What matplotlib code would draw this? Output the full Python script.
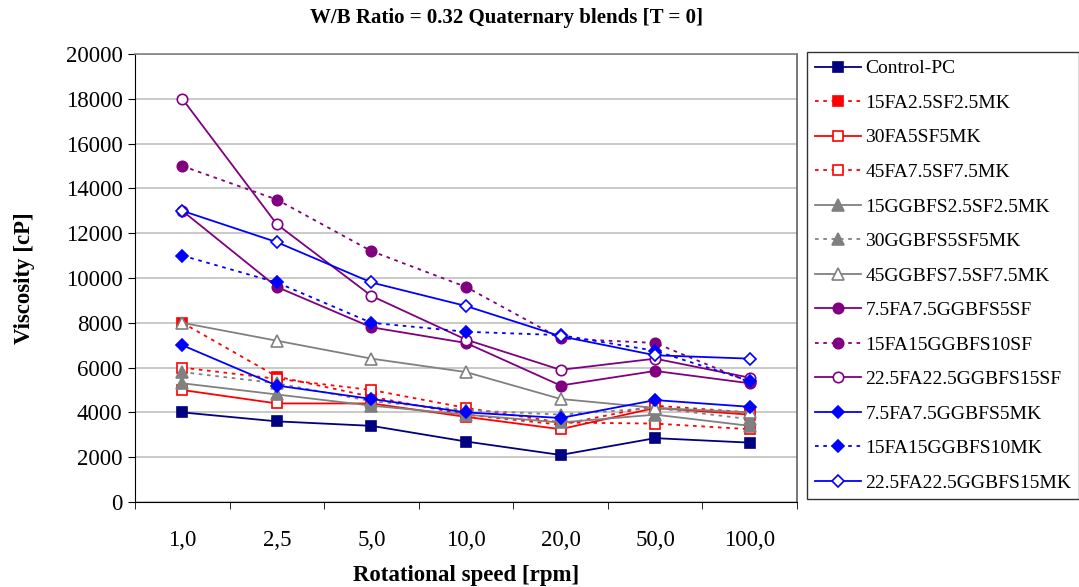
import matplotlib
matplotlib.use("Agg")
import matplotlib.pyplot as plt

plt.rcParams['font.family'] = ['Liberation Serif', 'DejaVu Serif']

speeds = ["1,0", "2,5", "5,0", "10,0", "20,0", "50,0", "100,0"]

control_pc = [4000, 3600, 3400, 2700, 2100, 2850, 2650]
fa15_sf25_mk25 = [8000, 5600, 4700, 3900, 3450, 4300, 4000]
fa30_sf5_mk5 = [5000, 4400, 4400, 3800, 3250, 4200, 3900]
fa45_sf75_mk75 = [6000, 5500, 5000, 4200, 3550, 3500, 3250]
gg15_sf25_mk25 = [5300, 4800, 4300, 3900, 3550, 3900, 3400]
gg30_sf5_mk5 = [5800, 5300, 4500, 4100, 3900, 4200, 3700]
gg45_sf75_mk75 = [8000, 7200, 6400, 5800, 4600, 4200, 4000]
fa75_gg75_sf5 = [13000, 9600, 7800, 7100, 5200, 5850, 5300]
fa15_gg15_sf10 = [15000, 13500, 11200, 9600, 7300, 7100, 5350]
fa225_gg225_sf15 = [18000, 12400, 9200, 7250, 5900, 6400, 5550]
fa75_gg75_mk5 = [7000, 5200, 4600, 4000, 3750, 4550, 4250]
fa15_gg15_mk10 = [11000, 9800, 8000, 7600, 7450, 6750, 5400]
fa225_gg225_mk15 = [13000, 11600, 9800, 8750, 7400, 6550, 6400]

NAVY, RED, GRAY, PURPLE, BLUE = "#000080", "#ff0000", "#808080", "#800080", "#0000ff"
DOT = (0, (2, 2.6))

series = [
    ("Control-PC", control_pc, NAVY, "-", "s", True),
    ("15FA2.5SF2.5MK", fa15_sf25_mk25, RED, DOT, "s", True),
    ("30FA5SF5MK", fa30_sf5_mk5, RED, "-", "s", False),
    ("45FA7.5SF7.5MK", fa45_sf75_mk75, RED, DOT, "s", False),
    ("15GGBFS2.5SF2.5MK", gg15_sf25_mk25, GRAY, "-", "^", True),
    ("30GGBFS5SF5MK", gg30_sf5_mk5, GRAY, DOT, "^", True),
    ("45GGBFS7.5SF7.5MK", gg45_sf75_mk75, GRAY, "-", "^", False),
    ("7.5FA7.5GGBFS5SF", fa75_gg75_sf5, PURPLE, "-", "o", True),
    ("15FA15GGBFS10SF", fa15_gg15_sf10, PURPLE, DOT, "o", True),
    ("22.5FA22.5GGBFS15SF", fa225_gg225_sf15, PURPLE, "-", "o", False),
    ("7.5FA7.5GGBFS5MK", fa75_gg75_mk5, BLUE, "-", "D", True),
    ("15FA15GGBFS10MK", fa15_gg15_mk10, BLUE, DOT, "D", True),
    ("22.5FA22.5GGBFS15MK", fa225_gg225_mk15, BLUE, "-", "D", False),
]

fig = plt.figure(figsize=(10.79, 5.87), dpi=100)
ax = fig.add_axes([135 / 1079, 1 - 502 / 587, (797 - 135) / 1079, (502 - 54) / 587])

x = list(range(len(speeds)))
for label, vals, color, ls, marker, filled in series:
    ms = 7.5
    if marker == "D":
        ms = 6.5
    elif marker == "^":
        ms = 8
    ax.plot(x, vals, color=color, linestyle=ls, linewidth=1.3, marker=marker,
            markersize=ms, markerfacecolor=color if filled else "white",
            markeredgecolor=color, markeredgewidth=1.2, label=label)

ax.set_xlim(-0.5, len(speeds) - 0.5)
ax.set_ylim(0, 20000)
ax.set_yticks(range(0, 20001, 2000))
ax.set_xticks(x)
ax.set_xticklabels(speeds)
ax.set_xticks([i - 0.5 for i in range(len(speeds) + 1)], minor=True)
ax.tick_params(axis="x", which="major", length=0, pad=20, labelsize=16.5)
ax.tick_params(axis="x", which="minor", length=5, direction="out", color="black")
ax.tick_params(axis="y", length=5, direction="out", labelsize=16.5, pad=4)

ax.yaxis.grid(True, color="#c0c0c0", linewidth=1.2)
ax.set_axisbelow(True)
for side in ("top", "right"):
    ax.spines[side].set_color("#808080")
    ax.spines[side].set_linewidth(1.2)
ax.spines["right"].set_color("#606060")
ax.spines["left"].set_color("black")
ax.spines["bottom"].set_color("black")

ax.set_ylabel("Viscosity [cP]", fontsize=16.5, fontweight="bold", labelpad=22)
ax.set_xlabel("Rotational speed [rpm]", fontsize=16.5, fontweight="bold", labelpad=10)
fig.text(506 / 1079, 1 - 18 / 587, "W/B Ratio = 0.32 Quaternary blends [T = 0]",
         ha="center", va="center", fontsize=15, fontweight="bold")

leg = fig.legend(loc="upper left", bbox_to_anchor=(807 / 1079, 1 - 52 / 587),
                 frameon=True, fancybox=False, fontsize=14, handlelength=2.4,
                 labelspacing=0.87, borderpad=0.4, handletextpad=0.2,
                 borderaxespad=0)
leg.get_frame().set_edgecolor("black")
leg.get_frame().set_linewidth(1.0)

fig.savefig("out.png", dpi=100)
